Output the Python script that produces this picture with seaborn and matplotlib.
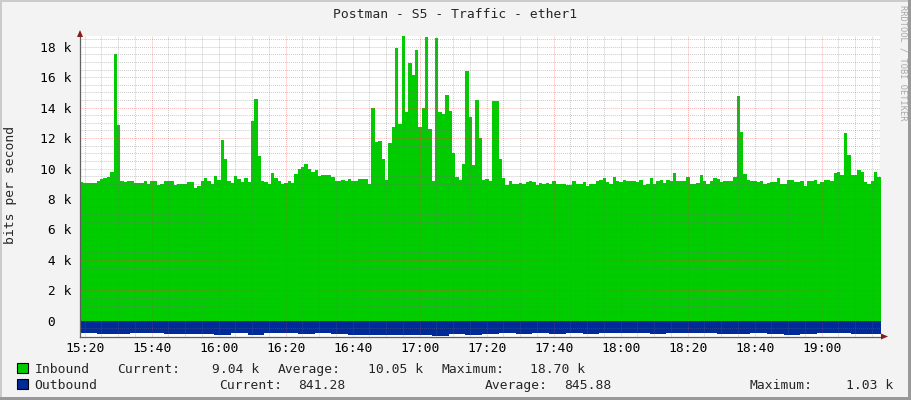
import numpy as np
import matplotlib
matplotlib.use("Agg")
import matplotlib.pyplot as plt
from matplotlib.patches import Rectangle, Polygon
import seaborn as sns

# x axis is minutes after 15:20, first sample starts at 15:18.6
start_min = -1.4

# inbound, 1 minute samples, in k bits/s
inbound_k = [
    9.1, 9.05, 9.05, 9.05, 9.07, 9.15, 9.3, 9.4, 9.47, 9.8,
    17.55, 12.85, 9.15, 9.1, 9.2, 9.15, 9.05, 9.05, 9.05, 9.2,
    8.95, 9.15, 9.2, 8.9, 8.95, 9.2, 9.15, 9.15, 8.9, 9.0,
    9.0, 9.0, 9.1, 9.1, 8.75, 8.85, 9.15, 9.35, 9.2, 9.0,
    9.5, 9.25, 11.9, 10.6, 9.15, 9.05, 9.5, 9.3, 9.1, 9.35,
    9.1, 13.1, 14.55, 10.8, 9.2, 9.1, 8.95, 9.7, 9.4, 9.15,
    8.95, 9.05, 9.15, 9.05, 9.65, 10.0, 10.1, 10.3, 9.95, 9.8,
    9.87, 9.5, 9.55, 9.6, 9.58, 9.43, 9.2, 9.15, 9.25, 9.2,
    9.3, 9.2, 9.2, 9.33, 9.33, 9.3, 9.0, 14.0, 11.75, 11.8,
    10.65, 9.27, 11.65, 12.7, 17.9, 12.9, 18.7, 13.7, 16.9, 16.15,
    17.8, 12.75, 13.95, 18.65, 12.6, 9.15, 18.6, 13.7, 13.6, 14.85,
    13.8, 11.05, 9.43, 9.25, 10.3, 16.4, 13.35, 10.2, 14.5, 12.0,
    9.27, 9.3, 9.2, 14.45, 14.4, 10.65, 9.35, 8.92, 9.2, 9.0,
    9.0, 9.07, 9.0, 9.1, 9.2, 9.1, 8.92, 9.05, 9.0, 9.05,
    9.0, 9.2, 9.0, 9.0, 9.0, 8.9, 8.9, 9.15, 9.0, 9.0,
    9.1, 8.82, 9.0, 9.0, 9.15, 9.27, 9.35, 9.1, 8.95, 9.43,
    9.2, 9.1, 9.25, 9.17, 9.17, 9.2, 9.1, 9.25, 8.92, 9.0,
    9.35, 9.0, 9.2, 9.25, 9.03, 9.27, 9.2, 9.7, 9.2, 9.2,
    9.2, 9.47, 8.95, 8.95, 9.05, 9.55, 9.15, 9.0, 9.2, 9.35,
    9.3, 9.1, 9.2, 9.2, 9.2, 9.43, 14.77, 12.4, 9.65, 9.27,
    9.2, 9.15, 9.1, 9.17, 9.0, 9.05, 9.1, 9.1, 9.35, 9.0,
    9.0, 9.27, 9.27, 9.1, 9.1, 9.15, 8.88, 9.15, 9.15, 9.27,
    9.0, 9.1, 9.27, 9.27, 9.17, 9.7, 9.75, 9.6, 12.3, 10.9,
    9.55, 9.6, 9.87, 9.75, 9.1, 8.95, 9.15, 9.8, 9.45,
]

# outbound, 5 minute samples, bits/s (drawn below zero)
outbound = [
    830, 850, 850, 820, 800, 850, 850, 850, 900, 810, 900, 820,
    810, 860, 810, 860, 900, 900, 950, 950, 900, 980, 860, 900,
    850, 800, 850, 810, 850, 810, 850, 810, 790, 830, 850, 800,
    790, 820, 850, 850, 810, 850, 900, 840, 830, 800, 850, 850,
]

tick_minutes = [0, 20, 40, 60, 80, 100, 120, 140, 160, 180, 200, 220]
tick_labels = ["15:20", "15:40", "16:00", "16:20", "16:40", "17:00",
               "17:20", "17:40", "18:00", "18:20", "18:40", "19:00"]
ytick_vals = [0, 2000, 4000, 6000, 8000, 10000, 12000, 14000, 16000, 18000]
ytick_labels = [" 0", " 2 k", " 4 k", " 6 k", " 8 k",
                "10 k", "12 k", "14 k", "16 k", "18 k"]

title = "Postman - S5 - Traffic - ether1"
in_stats = ["Current:", "9.04 k", "Average:", "10.05 k", "Maximum:", "18.70 k"]
out_stats = ["Current:", "841.28", "Average:", "845.88", "Maximum:", "1.03 k"]

sns.set_style("white")
plt.rcParams["font.family"] = ["DejaVu Sans Mono"]
FS = 9.4
W, H = 911, 400

fig = plt.figure(figsize=(W / 100, H / 100), dpi=100, facecolor="#F3F3F3")
ax = fig.add_axes([80 / W, 1 - 336.5 / H, 800 / W, 300.5 / H])
ax.set_facecolor("white")


def step_area(edges, values, color):
    y = np.append(values, values[-1])
    sns.lineplot(x=edges, y=y, drawstyle="steps-post", color=color,
                 linewidth=0, estimator=None, sort=False, ax=ax)
    ax.fill_between(edges, 0, y, step="post", color=color, linewidth=0)


edges_in = start_min + np.arange(len(inbound_k) + 1)
step_area(edges_in, np.array(inbound_k) * 1000, "#00CC00")
edges_out = start_min + 5 * np.arange(len(outbound) + 1)
step_area(edges_out, -np.array(outbound, dtype=float), "#002A97")

ax.set_xlim(start_min, 237.4)
ax.set_ylim(-1030, 18700)
ax.set_xlabel("")
ax.set_ylabel("")

ax.set_xticks(tick_minutes, tick_labels)
ax.set_xticks([m for m in range(0, 240, 5) if m % 20], minor=True)
ax.set_yticks(ytick_vals, ytick_labels)
ax.set_yticks([v for v in range(-500, 18700, 500) if v % 2000], minor=True)
for t in ax.get_yticklabels():
    t.set_horizontalalignment("left")

# rrdtool draws its grid over the areas, faint and dotted
ax.set_axisbelow(False)
ax.grid(which="major", color="#FF3030", alpha=0.42, linestyle=(0, (1, 1.2)), linewidth=0.65)
ax.grid(which="minor", color="#707070", alpha=0.42, linestyle=(0, (1, 1.2)), linewidth=0.65)

ax.tick_params(axis="x", which="both", length=1.5, width=0.7, color="#606060",
               pad=2.5, labelsize=FS, labelcolor="black")
ax.tick_params(axis="y", which="both", length=2.2, width=0.7, color="#606060",
               pad=26.6, labelsize=FS, labelcolor="black")
for side in ["top", "right"]:
    ax.spines[side].set_visible(False)
for side in ["left", "bottom"]:
    ax.spines[side].set_color("#606060")
    ax.spines[side].set_linewidth(0.9)

# overlay in pixel coordinates for frame, texts and legend
ov = fig.add_axes([0, 0, 1, 1], facecolor="none")
ov.set_xlim(0, W)
ov.set_ylim(H, 0)
ov.axis("off")

ov.add_patch(Rectangle((0, 0), W, 2, color="#CBCBCB", lw=0))
ov.add_patch(Rectangle((0, 0), 2, H, color="#CBCBCB", lw=0))
ov.add_patch(Rectangle((0, H - 3), W, 3, color="#999999", lw=0))
ov.add_patch(Rectangle((W - 3, 0), 3, H, color="#999999", lw=0))

ov.add_patch(Polygon([(77, 37), (83, 37), (80, 30)], color="#8B1A1A", lw=0))
ov.add_patch(Polygon([(881, 333.5), (881, 339.5), (888, 336.5)], color="#8B1A1A", lw=0))

ov.text(455, 14, title, ha="center", va="center", fontsize=FS)
ov.text(11, 185, "bits per second", ha="center", va="center", rotation=90, fontsize=FS)
ov.text(903, 5, "RRDTOOL / TOBI OETIKER", ha="center", va="top", rotation=270,
        fontsize=6.2, color="#A8A8A8")

ov.add_patch(Rectangle((17, 363), 11, 10, facecolor="#00CC00", edgecolor="black", lw=0.8))
ov.add_patch(Rectangle((17, 379), 11, 10, facecolor="#002A97", edgecolor="black", lw=0.8))
ov.text(34.3, 373, "Inbound", ha="left", va="baseline", fontsize=FS)
ov.text(34.3, 389, "Outbound", ha="left", va="baseline", fontsize=FS)
for x, s in zip([116.7, 212, 278, 368, 441, 530], in_stats):
    ov.text(x, 373, s, ha="left", va="baseline", fontsize=FS)
for x, s in zip([219, 298, 485, 564, 750, 846], out_stats):
    ov.text(x, 389, s, ha="left", va="baseline", fontsize=FS)

fig.savefig("out.png", dpi=100, facecolor=fig.get_facecolor())
